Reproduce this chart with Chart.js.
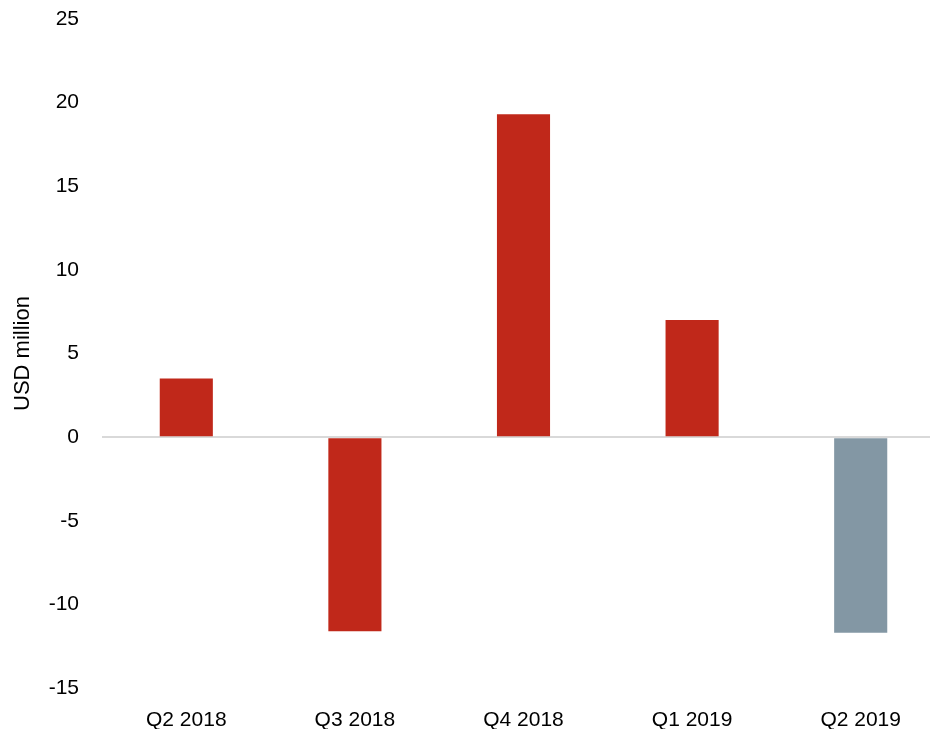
<!DOCTYPE html>
<html>
<head>
<meta charset="utf-8">
<script src="https://cdn.jsdelivr.net/npm/chart.js@4/dist/chart.umd.min.js"></script>
<style>
  html, body { margin: 0; padding: 0; background: #fff; overflow: hidden; }
  #wrap { width: 945px; height: 729px; }
</style>
</head>
<body>
<div id="wrap"><canvas id="flowChart" width="945" height="729"></canvas></div>
<script>
const quarters = ["Q2 2018", "Q3 2018", "Q4 2018", "Q1 2019", "Q2 2019"];
const netFlows = [3.5, -11.6, 19.3, 7.0, -11.7];
const barColors = ["#c0281a", "#c0281a", "#c0281a", "#c0281a", "#8397a4"];
const yTicks = [-15, -10, -5, 0, 5, 10, 15, 20, 25];

const font = { family: "'Liberation Sans', Arial, sans-serif", size: 21 };

new Chart(document.getElementById("flowChart"), {
  type: "bar",
  data: {
    labels: quarters,
    datasets: [{ data: netFlows, backgroundColor: barColors, borderWidth: 0, categoryPercentage: 1, barPercentage: 0.315 }],
  },
  options: {
    responsive: false,
    animation: false,
    layout: { padding: { top: 19, right: 0, bottom: 0, left: 0 } },
    plugins: { legend: { display: false }, tooltip: { enabled: false } },
    scales: {
      x: {
        grid: { display: false, drawTicks: false },
        border: { display: false },
        ticks: { color: "#000", font, padding: 20, maxRotation: 0 },
        afterFit: (scale) => { scale.height = 41; },
      },
      y: {
        min: yTicks[0],
        max: yTicks[yTicks.length - 1],
        afterBuildTicks: (scale) => { scale.ticks = yTicks.map((value) => ({ value })); },
        grid: {
          drawTicks: false,
          color: (ctx) => (ctx.tick && ctx.tick.value === 0 ? "#d9d9d9" : "rgba(0,0,0,0)"),
          lineWidth: 2,
        },
        border: { display: false },
        ticks: { color: "#000", font, padding: 23 },
        title: { display: true, text: "USD million", color: "#000", font: { ...font, size: 22 }, padding: { top: 10, bottom: 0 } },
        afterFit: (scale) => {
          scale.width = 102;
          scale.paddingTop = 0;
          scale.paddingBottom = 0;
        },
      },
    },
  },
});
</script>
</body>
</html>
